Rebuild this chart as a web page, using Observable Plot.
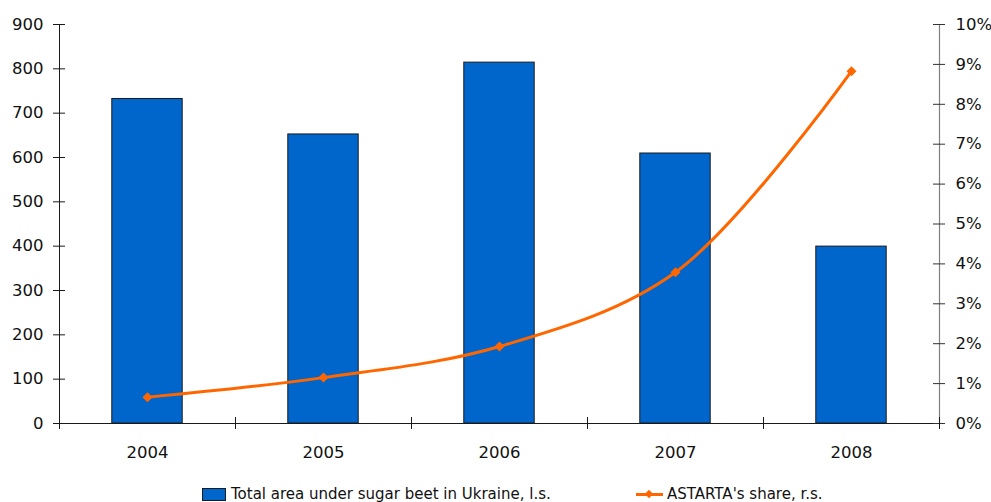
<!DOCTYPE html>
<html>
<head>
<meta charset="utf-8">
<script src="https://cdn.jsdelivr.net/npm/d3@7"></script>
<script src="https://cdn.jsdelivr.net/npm/@observablehq/plot@0.6"></script>
<style>
  html, body { margin: 0; padding: 0; background: #fff; }
  body { width: 991px; height: 502px; overflow: hidden; position: relative; font-family: "DejaVu Sans", sans-serif; color: #111; }
  #chart svg { display: block; }
  .legend-item { position: absolute; display: flex; align-items: center; font-size: 15px; line-height: 17px; white-space: nowrap; }
  .sw-bar { width: 24px; height: 13px; background: #0066CC; border: 1px solid #1a1a1a; box-sizing: border-box; margin-right: 5px; }
  .sw-line { position: relative; width: 27px; height: 13px; margin-right: 4px; }
  .sw-line::before { content: ""; position: absolute; left: 0; right: 0; top: 5px; height: 3px; background: #FF6600; }
  .sw-line::after { content: ""; position: absolute; left: 10px; top: 3px; width: 6px; height: 6px; background: #FF6600; transform: rotate(45deg); }
</style>
</head>
<body>
<div id="chart"></div>
<div class="legend-item" style="left:202px; top:486px;"><div class="sw-bar"></div>Total area under sugar beet in Ukraine, l.s.</div>
<div class="legend-item" style="left:636px; top:486px;"><div class="sw-line"></div>ASTARTA's share, r.s.</div>
<script>
// Sugar beet area in Ukraine (left scale) and ASTARTA's share (right scale, %)
const years = [2004, 2005, 2006, 2007, 2008];
const totalArea = [732, 652, 814, 609, 399];
const astartaShare = [0.66, 1.15, 1.93, 3.79, 8.83];
const leftTicks = [0, 100, 200, 300, 400, 500, 600, 700, 800, 900];
const rightTicks = [0, 1, 2, 3, 4, 5, 6, 7, 8, 9, 10];

const leftMax = 900;
const rightMax = 10;
const k = leftMax / rightMax; // maps % onto the left-hand scale

const areaData = years.map((year, i) => ({year, area: totalArea[i]}));
const shareData = years.map((year, i) => ({year, share: astartaShare[i]}));

const xMin = years[0] - 0.5;
const xMax = years[years.length - 1] + 0.5;
const boundaries = d3.range(xMin, xMax + 0.01, 1);

const axisColor = "#1a1a1a";
const orange = "#FF6600";
const labelSize = 16.5;

const chart = Plot.plot({
  width: 991,
  height: 470,
  marginLeft: 59,
  marginRight: 52,
  marginTop: 24,
  marginBottom: 47,
  style: {fontFamily: "DejaVu Sans, sans-serif", fontSize: "16px", color: "#111", background: "#fff"},
  x: {type: "linear", domain: [xMin, xMax], axis: null},
  y: {domain: [0, leftMax], axis: null},
  marks: [
    // bars
    Plot.rectY(areaData, {x1: d => d.year - 0.2, x2: d => d.year + 0.2, y: "area", fill: "#0066CC", stroke: "#1a1a1a", strokeWidth: 1}),
    // axis lines
    Plot.ruleX([xMin], {y1: 0, y2: leftMax, stroke: axisColor, strokeWidth: 1}),
    Plot.ruleX([xMax], {y1: 0, y2: leftMax, stroke: "#808080", strokeWidth: 1.2}),
    Plot.ruleY([0], {x1: xMin, x2: xMax, stroke: axisColor, strokeWidth: 1}),
    // crossing tick marks
    Plot.ruleY(leftTicks, {y: d => d, x1: xMin, x2: xMin, insetLeft: -6, insetRight: -6, stroke: axisColor}),
    Plot.ruleY(rightTicks, {y: d => d * k, x1: xMax, x2: xMax, insetLeft: -6, insetRight: -6, stroke: "#333"}),
    Plot.ruleX(boundaries, {x: d => d, y1: 0, y2: 0, insetTop: -6, insetBottom: -6, stroke: axisColor}),
    // tick labels
    Plot.axisY({anchor: "left", label: null, ticks: leftTicks, tickSize: 0, tickPadding: 16, fontSize: labelSize, tickFormat: d => String(d)}),
    Plot.axisY({anchor: "right", label: null, ticks: rightTicks.map(p => p * k), tickSize: 0, tickPadding: 16, fontSize: labelSize, tickFormat: d => `${Math.round(d / k)}%`}),
    Plot.axisX({label: null, ticks: years, tickSize: 0, tickPadding: 23, fontSize: labelSize, tickFormat: d => String(d)}),
    // share line
    Plot.line(shareData, {x: "year", y: d => d.share * k, stroke: orange, strokeWidth: 3, curve: "catmull-rom"}),
    Plot.dot(shareData, {x: "year", y: d => d.share * k, symbol: "diamond2", r: 4.5, fill: orange, stroke: "none"})
  ]
});

document.getElementById("chart").appendChild(chart);
</script>
</body>
</html>
